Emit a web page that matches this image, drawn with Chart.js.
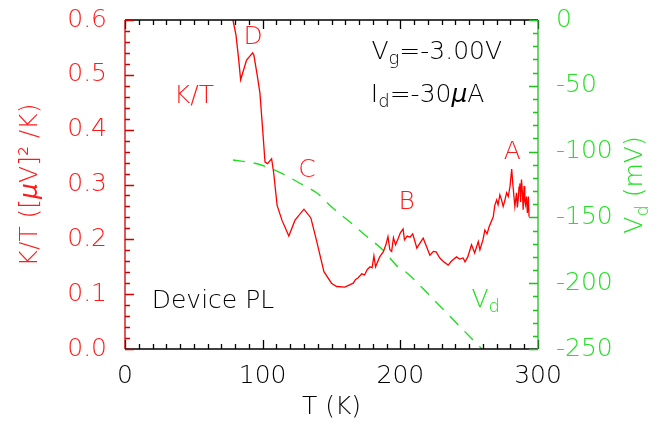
<!DOCTYPE html>
<html>
<head>
<meta charset="utf-8">
<script src="https://cdn.jsdelivr.net/npm/chart.js@4.4.1/dist/chart.umd.min.js"></script>
<style>
  html, body { margin: 0; padding: 0; background: #fff; }
  canvas { display: block; }
</style>
</head>
<body>
<canvas id="c" width="664" height="423"></canvas>
<script>
// K/T trace (red, left axis)
const tKT = [78.4, 80.6, 82.5, 84.0, 88.3, 92.7, 93.6, 96.0, 98.0, 100.0, 101.7, 103.5, 106.5, 108.0, 110.5,
  114, 119, 123.5, 130, 135, 139, 144.5, 150, 153.7, 159.7, 165.8, 167.5, 169.4, 172, 174, 176, 178, 179.5,
  180.8, 182, 185, 187.6, 189.5, 191, 192.4, 193.7, 195, 196.5, 198.5, 200, 202, 203, 205, 207, 209, 212,
  214, 216.6, 218.5, 221.5, 224, 226, 228.7, 231, 234.8, 237, 240.8, 243, 245.6, 247, 249, 251.7, 254,
  256.6, 257.8, 260, 261.4, 263, 264.5, 265.1, 267.5, 268.6, 270, 271, 272.3, 273.5, 274.7, 276, 277.2, 278.4,
  279.7, 280.9, 281.6, 282.5, 283.2, 284.4, 285.0, 285.6, 286.2, 286.8, 287.4, 288, 288.7, 289.2, 289.9, 290.4,
  290.9, 291.6, 292.3, 293, 293.5];
const valKT = [0.600, 0.573, 0.530, 0.491, 0.527, 0.540, 0.536, 0.500, 0.467, 0.400, 0.341, 0.338, 0.347, 0.321, 0.262,
  0.235, 0.206, 0.235, 0.255, 0.239, 0.199, 0.141, 0.120, 0.114, 0.113, 0.120, 0.127, 0.130, 0.137, 0.135, 0.145, 0.150, 0.148,
  0.170, 0.150, 0.168, 0.177, 0.190, 0.205, 0.181, 0.178, 0.203, 0.190, 0.202, 0.212, 0.219, 0.199, 0.206, 0.204, 0.210, 0.184,
  0.192, 0.202, 0.190, 0.171, 0.178, 0.177, 0.166, 0.160, 0.153, 0.160, 0.168, 0.164, 0.166, 0.159, 0.168, 0.190, 0.175,
  0.196, 0.181, 0.199, 0.217, 0.210, 0.223, 0.223, 0.241, 0.262, 0.272, 0.263, 0.281, 0.272, 0.260, 0.272, 0.285, 0.278,
  0.297, 0.328, 0.304, 0.279, 0.260, 0.285, 0.258, 0.272, 0.295, 0.302, 0.268, 0.309, 0.285, 0.254, 0.297, 0.270,
  0.263, 0.278, 0.248, 0.278, 0.241];

// V_d trace (green dashed, right axis)
const tVd = [78.4, 96.6, 106.7, 114.7, 129.3, 139.4, 151, 163.4, 175, 187.4, 198.3, 204.8, 220, 240, 259.3];
const valVd = [-106.4, -109.4, -113.2, -117, -125.4, -131.5, -142.9, -153.5, -164, -174.8, -187.7, -192.2, -207.9, -229.5, -250];

const xRange = [0, 300];
const ktRange = [0, 0.6];
const vdRange = [-250, 0];

const RED = '#ff1a1a';
const GREEN = '#22e022';
const FONT = '"DejaVu Sans ExtraLight", "DejaVu Sans", sans-serif';
const FS = 25;

// text labels placed in data coordinates (T, K/T)
const notes = [
  { t: 93.0, k: 0.557, align: 'center', color: RED, parts: [{ s: 'D' }] },
  { t: 50.1, k: 0.449, align: 'center', color: RED, parts: [{ s: 'K/T' }] },
  { t: 132.2, k: 0.314, align: 'center', color: RED, parts: [{ s: 'C' }] },
  { t: 204.6, k: 0.255, align: 'center', color: RED, parts: [{ s: 'B' }] },
  { t: 281.4, k: 0.347, align: 'center', color: RED, parts: [{ s: 'A' }] },
  { t: 179.0, k: 0.529, align: 'left', color: '#000', parts: [{ s: 'V' }, { s: 'g', sub: true }, { s: '=-3.00V' }] },
  { t: 178.6, k: 0.451, align: 'left', color: '#000', parts: [{ s: 'I' }, { s: 'd', sub: true }, { s: '=-30' }, { s: 'μ', it: true }, { s: 'A' }] },
  { t: 19.4, k: 0.075, align: 'left', color: '#000', parts: [{ s: 'Device PL' }] },
  { t: 251.7, k: 0.077, align: 'left', color: GREEN, parts: [{ s: 'V' }, { s: 'd', sub: true }] }
];

function fontOf(size, it) {
  return (it ? 'italic ' : '') + '200 ' + size + 'px ' + FONT;
}

function drawRuns(ctx, parts, x, y, align, size) {
  let w = 0;
  parts.forEach(p => {
    ctx.font = fontOf(p.sub ? size * 0.72 : size, p.it);
    w += ctx.measureText(p.s).width;
  });
  let cx = align === 'center' ? x - w / 2 : x;
  ctx.textAlign = 'left';
  parts.forEach(p => {
    ctx.font = fontOf(p.sub ? size * 0.72 : size, p.it);
    ctx.fillText(p.s, cx, p.sub ? y + size * 0.22 : y);
    cx += ctx.measureText(p.s).width;
  });
}

function fixBox(w, h) {
  return s => {
    if (w) s.width = w;
    if (h) s.height = h;
    s.paddingTop = 0; s.paddingBottom = 0; s.paddingLeft = 0; s.paddingRight = 0;
  };
}

const decor = {
  id: 'decor',
  afterDraw(chart) {
    const { ctx, chartArea: a, scales } = chart;
    const x = scales.x, yL = scales.yL, yR = scales.yR;
    ctx.save();
    ctx.lineWidth = 1.3;

    // bottom and top axes (black)
    ctx.strokeStyle = '#000';
    ctx.beginPath();
    ctx.moveTo(a.left, a.bottom); ctx.lineTo(a.right, a.bottom);
    ctx.moveTo(a.left, a.top); ctx.lineTo(a.right, a.top);
    for (let v = xRange[0]; v <= xRange[1]; v += 10) {
      const px = Math.round(x.getPixelForValue(v)) + 0.5;
      const len = v % 100 === 0 ? 9 : 5;
      ctx.moveTo(px, a.bottom); ctx.lineTo(px, a.bottom - len);
      ctx.moveTo(px, a.top); ctx.lineTo(px, a.top + len);
    }
    ctx.stroke();

    // left axis (red)
    ctx.strokeStyle = '#d00000';
    ctx.beginPath();
    ctx.moveTo(a.left, a.top); ctx.lineTo(a.left, a.bottom);
    for (let i = 0; i <= 30; i++) {
      const v = i * 0.02;
      const py = Math.round(yL.getPixelForValue(v)) + 0.5;
      const len = i % 5 === 0 ? 9 : 5;
      ctx.moveTo(a.left, py); ctx.lineTo(a.left + len, py);
    }
    ctx.stroke();

    // right axis (green)
    ctx.strokeStyle = '#22c022';
    ctx.beginPath();
    ctx.moveTo(a.right, a.top); ctx.lineTo(a.right, a.bottom);
    for (let v = vdRange[0]; v <= vdRange[1]; v += 10) {
      const py = Math.round(yR.getPixelForValue(v)) + 0.5;
      const len = v % 50 === 0 ? 9 : 5;
      ctx.moveTo(a.right, py); ctx.lineTo(a.right - len, py);
    }
    ctx.stroke();

    // notes
    ctx.textBaseline = 'alphabetic';
    notes.forEach(n => {
      ctx.fillStyle = n.color;
      drawRuns(ctx, n.parts, x.getPixelForValue(n.t), yL.getPixelForValue(n.k), n.align, FS);
    });

    // axis titles
    ctx.fillStyle = '#000';
    drawRuns(ctx, [{ s: 'T (K)' }], (a.left + a.right) / 2, 414, 'center', FS);

    ctx.save();
    ctx.translate(37, 185);
    ctx.rotate(-Math.PI / 2);
    ctx.fillStyle = RED;
    drawRuns(ctx, [{ s: 'K/T ([' }, { s: 'μ', it: true }, { s: 'V]² /K)' }], 0, 0, 'center', FS);
    ctx.restore();

    ctx.save();
    ctx.translate(642, 185);
    ctx.rotate(-Math.PI / 2);
    ctx.fillStyle = GREEN;
    drawRuns(ctx, [{ s: 'V' }, { s: 'd', sub: true }, { s: ' (mV)' }], 0, 0, 'center', FS);
    ctx.restore();

    ctx.restore();
  }
};

new Chart(document.getElementById('c'), {
  type: 'line',
  data: {
    datasets: [
      {
        label: 'K/T',
        data: tKT.map((t, i) => ({ x: t, y: valKT[i] })),
        yAxisID: 'yL',
        borderColor: 'red',
        borderWidth: 1.3,
        pointRadius: 0,
        tension: 0
      },
      {
        label: 'Vd',
        data: tVd.map((t, i) => ({ x: t, y: valVd[i] })),
        yAxisID: 'yR',
        borderColor: '#22dd22',
        borderWidth: 1.4,
        borderDash: [12, 9],
        pointRadius: 0,
        cubicInterpolationMode: 'monotone'
      }
    ]
  },
  options: {
    responsive: false,
    animation: false,
    devicePixelRatio: 1,
    layout: { padding: { top: 20, left: 0, right: 0, bottom: 0 } },
    plugins: { legend: { display: false }, tooltip: { enabled: false } },
    scales: {
      x: {
        type: 'linear',
        min: xRange[0], max: xRange[1],
        grid: { display: false, drawTicks: false },
        border: { display: false },
        ticks: { stepSize: 100, color: '#000', padding: 12, font: { family: FONT, size: FS, weight: 200 } },
        afterFit: fixBox(0, 74)
      },
      yL: {
        position: 'left',
        min: ktRange[0], max: ktRange[1],
        grid: { display: false, drawTicks: false },
        border: { display: false },
        ticks: { stepSize: 0.1, color: RED, padding: 18, font: { family: FONT, size: FS, weight: 200 },
          callback: v => v.toFixed(1) },
        afterFit: fixBox(125, 0)
      },
      yR: {
        position: 'right',
        min: vdRange[0], max: vdRange[1],
        grid: { display: false, drawTicks: false },
        border: { display: false },
        ticks: { stepSize: 50, color: GREEN, padding: 18, font: { family: FONT, size: FS, weight: 200 } },
        afterFit: fixBox(126, 0)
      }
    }
  },
  plugins: [decor]
});
</script>
</body>
</html>
